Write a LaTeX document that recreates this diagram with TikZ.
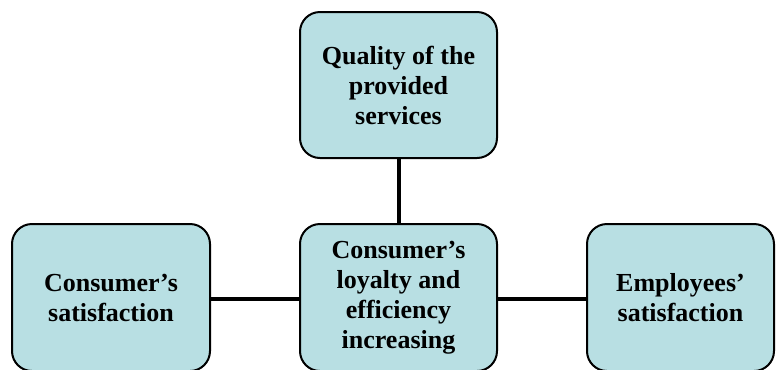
\documentclass[tikz,border=0pt]{standalone}
\usepackage{fontspec}
\setmainfont{Liberation Serif}
\begin{document}
\begin{tikzpicture}[x=0.75pt,y=-0.75pt,
  box/.style={draw=black,line width=1.5pt,fill=boxfill,rounded corners=15pt,
    align=center,font=\bfseries\fontsize{19.5}{22.5}\selectfont,inner sep=0pt},
  link/.style={line width=3pt,draw=black}]
\definecolor{boxfill}{HTML}{B8DFE3}
\useasboundingbox (0,0) rectangle (776,369);
\node[box,minimum width=147.75pt,minimum height=109.5pt] (q) at (398.5,85) {Quality of the\\provided\\services};
\node[box,minimum width=147.75pt,minimum height=110.25pt] (m) at (398.5,297.5) {Consumer’s\\loyalty and\\efficiency\\increasing};
\node[box,minimum width=148.5pt,minimum height=110.25pt] (l) at (111,297.5) {Consumer’s\\satisfaction};
\node[box,minimum width=140.25pt,minimum height=110.25pt] (r) at (680.5,297.5) {Employees’\\satisfaction};
\draw[link] (q) -- (m);
\draw[link] ([yshift=-1.2pt]l.east) -- ([yshift=-1.2pt]m.west);
\draw[link] ([yshift=-1.2pt]m.east) -- ([yshift=-1.2pt]r.west);
\end{tikzpicture}
\end{document}
